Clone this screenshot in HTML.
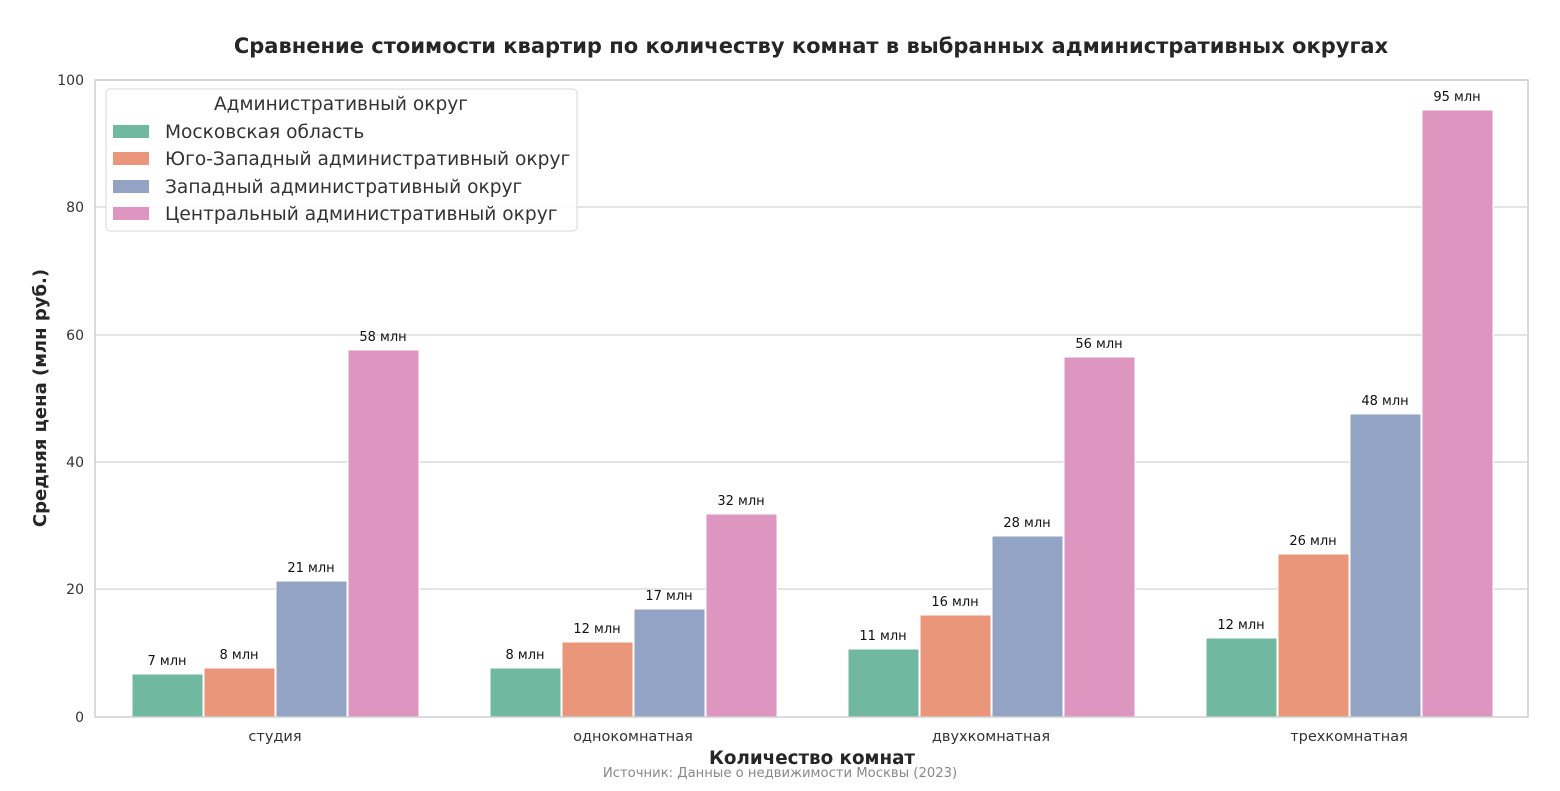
<!DOCTYPE html>
<html><head><meta charset="utf-8"><style>
body{margin:0;background:#fff;}
svg{display:block;font-family:"DejaVu Sans","Liberation Sans",sans-serif;}
</style></head><body>
<svg width="1560" height="791" viewBox="0 0 1560 791">
<rect width="1560" height="791" fill="#fff"/>
<text x="811" y="53" text-anchor="middle" font-size="21" font-weight="bold" fill="#262626">Сравнение стоимости квартир по количеству комнат в выбранных административных округах</text>
<g stroke="#dcdcdc" stroke-width="1.5">
<line x1="95" x2="1528" y1="589" y2="589"/><line x1="95" x2="1528" y1="462" y2="462"/>
<line x1="95" x2="1528" y1="335" y2="335"/><line x1="95" x2="1528" y1="207" y2="207"/>
<line x1="95" x2="1528" y1="80" y2="80"/>
</g>
<g font-size="14" fill="#333" text-anchor="end">
<text x="84" y="722">0</text><text x="84" y="594">20</text><text x="84" y="467">40</text><text x="84" y="340">60</text><text x="84" y="212">80</text><text x="84" y="85">100</text>
</g>
<g stroke="#fff" stroke-width="1">
<rect x="132" y="674" width="71" height="43" fill="#70b8a0"/>
<rect x="204" y="668" width="71" height="49" fill="#e9967a"/>
<rect x="276" y="581" width="71" height="136" fill="#93a3c3"/>
<rect x="348" y="350" width="71" height="367" fill="#dc96c0"/>
<rect x="490" y="668" width="71" height="49" fill="#70b8a0"/>
<rect x="562" y="642" width="71" height="75" fill="#e9967a"/>
<rect x="634" y="609" width="71" height="108" fill="#93a3c3"/>
<rect x="706" y="514" width="71" height="203" fill="#dc96c0"/>
<rect x="848" y="649" width="71" height="68" fill="#70b8a0"/>
<rect x="920" y="615" width="71" height="102" fill="#e9967a"/>
<rect x="992" y="536" width="71" height="181" fill="#93a3c3"/>
<rect x="1064" y="357" width="71" height="360" fill="#dc96c0"/>
<rect x="1206" y="638" width="71" height="79" fill="#70b8a0"/>
<rect x="1278" y="554" width="71" height="163" fill="#e9967a"/>
<rect x="1350" y="414" width="71" height="303" fill="#93a3c3"/>
<rect x="1422" y="110" width="71" height="607" fill="#dc96c0"/>
</g>
<g font-size="13" fill="#111" text-anchor="middle">
<text x="167" y="665">7 млн</text><text x="239" y="659">8 млн</text><text x="311" y="572">21 млн</text><text x="383" y="341">58 млн</text>
<text x="525" y="659">8 млн</text><text x="597" y="633">12 млн</text><text x="669" y="600">17 млн</text><text x="741" y="505">32 млн</text>
<text x="883" y="640">11 млн</text><text x="955" y="606">16 млн</text><text x="1027" y="527">28 млн</text><text x="1099" y="348">56 млн</text>
<text x="1241" y="629">12 млн</text><text x="1313" y="545">26 млн</text><text x="1385" y="405">48 млн</text><text x="1457" y="101">95 млн</text>
</g>
<rect x="95" y="80" width="1433" height="637" fill="none" stroke="#cfcfcf" stroke-width="1.5"/>
<g font-size="14.5" fill="#333" text-anchor="middle">
<text x="275" y="741">студия</text><text x="633" y="741">однокомнатная</text><text x="991" y="741">двухкомнатная</text><text x="1349" y="741">трехкомнатная</text>
</g>
<text x="812" y="764" text-anchor="middle" font-size="18.3" font-weight="bold" fill="#262626">Количество комнат</text>
<text x="780" y="777" text-anchor="middle" font-size="13.2" fill="#888">Источник: Данные о недвижимости Москвы (2023)</text>
<text transform="translate(46,398) rotate(-90)" text-anchor="middle" font-size="18" font-weight="bold" fill="#262626">Средняя цена (млн руб.)</text>
<rect x="106" y="89" width="471" height="142" rx="4" fill="#fff" fill-opacity="0.85" stroke="#d8d8d8"/>
<text x="341" y="110" text-anchor="middle" font-size="18.6" fill="#333">Административный округ</text>
<rect x="113" y="125" width="36" height="13" fill="#70b8a0"/>
<rect x="113" y="152" width="36" height="13" fill="#e9967a"/>
<rect x="113" y="180" width="36" height="13" fill="#93a3c3"/>
<rect x="113" y="207" width="36" height="13" fill="#dc96c0"/>
<g font-size="18.6" fill="#333">
<text x="165" y="138">Московская область</text>
<text x="165" y="165">Юго-Западный административный округ</text>
<text x="165" y="193">Западный административный округ</text>
<text x="165" y="220">Центральный административный округ</text>
</g>
</svg>
</body></html>
